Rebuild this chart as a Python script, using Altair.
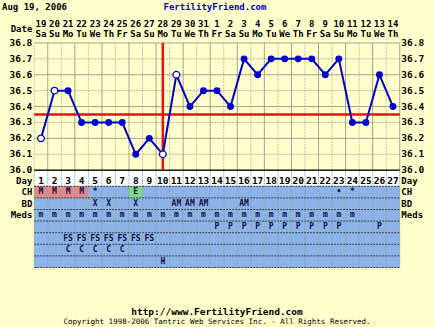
import altair as alt
import pandas as pd

# ---------------- data ----------------
days = list(range(1, 28))
dates = [19, 20, 21, 22, 23, 24, 25, 26, 27, 28, 29, 30, 31,
         1, 2, 3, 4, 5, 6, 7, 8, 9, 10, 11, 12, 13, 14]
weekdays = ["Sa", "Su", "Mo", "Tu", "We", "Th", "Fr"] * 4
weekdays = weekdays[:27]
temps = [36.2, 36.5, 36.5, 36.3, 36.3, 36.3, 36.3, 36.1, 36.2, 36.1,
         36.6, 36.4, 36.5, 36.5, 36.4, 36.7, 36.6, 36.7, 36.7, 36.7,
         36.7, 36.6, 36.7, 36.3, 36.3, 36.6, 36.4]
open_days = [1, 2, 10, 11]
coverline = 36.35
ovulation_day = 10
temp_ticks = [36.0, 36.1, 36.2, 36.3, 36.4, 36.5, 36.6, 36.7, 36.8]
temp_labels = ["36.0", "36.1", "36.2", "36.3", "36.4", "36.5", "36.6", "36.7", "36.8"]

ch = ["M", "M", "M", "M", "*", "", "", "E", "", "", "", "", "", "", "",
      "", "", "", "", "", "", "", "\u2022", "*", "", "", ""]
ch_colors = {"M": "#E68888", "E": "#7EDC7E"}
bd = ["", "", "", "", "X", "X", "", "X", "", "", "AM", "AM", "AM", "", "",
      "AM", "", "", "", "", "", "", "", "", "", "", ""]
meds = ["m"] * 24 + [""] * 3
p_row = [""] * 13 + ["P"] * 10 + ["", "", "P", ""]
fs_row = ["", ""] + ["FS"] * 7 + [""] * 18
c_row = ["", ""] + ["C"] * 5 + [""] * 20
h_row = [""] * 9 + ["H"] + [""] * 17
rows = [ch, bd, meds, p_row, fs_row, c_row, h_row]

# ---------------- scales ----------------
W, H = 434, 327
XS = alt.Scale(domain=[-2.028, 30.03], nice=False, zero=False)
TS = alt.Scale(domain=[35.014, 37.070], nice=False, zero=False)
LS = alt.Scale(domain=[-15.56, 12.629], nice=False, zero=False, reverse=True)
FONT = "DejaVu Sans Mono"


def X(f):
    return alt.X(f, type="quantitative", scale=XS, axis=None)


def YT(f):
    return alt.Y(f, type="quantitative", scale=TS, axis=None)


def YL(f):
    return alt.Y(f, type="quantitative", scale=LS, axis=None)


# ---------------- derived tables ----------------
bounds = [d + 0.5 for d in range(0, 28)]
vgrid = pd.DataFrame({"b": bounds, "t0": 36.0, "t1": 36.8,
                      "alt": [i % 2 for i in range(28)]})
hgrid = pd.DataFrame({"t": temp_ticks, "x0": 0.5, "x1": 27.5,
                      "alt": [i % 2 for i in range(9)]})
series = pd.DataFrame({"day": days, "temp": temps,
                       "open": [d in open_days for d in days]})

cells = []
for li, row in enumerate(rows, start=1):
    for d, v in zip(days, row):
        fill = "#8CB4E8"
        if li == 1 and v in ch_colors:
            fill = ch_colors[v]
        cells.append({"x0": d - 0.5, "x1": d + 0.5, "l0": li - 0.5, "l1": li + 0.5,
                      "fill": fill})
cells = pd.DataFrame(cells)

texts = []
for li, row in enumerate(rows, start=1):
    for d, v in zip(days, row):
        if v:
            texts.append({"day": d, "lane": li, "txt": v})
texts = pd.DataFrame(texts)

dayrow = pd.DataFrame({"day": days, "txt": [str(d) for d in days]})
header = pd.DataFrame({"day": days, "date": [str(x) for x in dates], "wd": weekdays})

tab_v = pd.DataFrame({"b": bounds, "l0": -0.8, "l1": 7.5})
tab_h = pd.DataFrame({"l": [0.5 + i for i in range(8)], "x0": 0.5, "x1": 27.5})

side = pd.DataFrame({"lane": [0, 1, 2, 3], "txt": ["Day", "CH", "BD", "Meds"]})
tick_df = pd.DataFrame({"t": temp_ticks, "lab": temp_labels})

# ---------------- layers ----------------
layers = []

layers.append(alt.Chart(pd.DataFrame({"x0": [0.5], "x1": [27.5], "l0": [-0.8], "l1": [0.5]}))
              .mark_rect(color="white").encode(x=X("x0"), x2="x1", y=YL("l0"), y2="l1"))
layers.append(alt.Chart(cells).mark_rect(strokeWidth=0).encode(
    x=X("x0"), x2="x1", y=YL("l0"), y2="l1", fill=alt.Fill("fill:N", scale=None)))
layers.append(alt.Chart(tab_v).mark_rule(color="#7F8FA8", strokeWidth=1, strokeDash=[1, 1]).encode(
    x=X("b"), y=YL("l0"), y2="l1"))
layers.append(alt.Chart(tab_h).mark_rule(color="#303848", strokeWidth=1, strokeDash=[2, 1]).encode(
    x=X("x0"), x2="x1", y=YL("l")))

layers.append(alt.Chart(vgrid).transform_filter("datum.alt == 1").mark_rule(
    color="#A8A090", strokeWidth=1).encode(x=X("b"), y=YT("t0"), y2="t1"))
layers.append(alt.Chart(vgrid).transform_filter("datum.alt == 0").mark_rule(
    color="#C8BFA8", strokeWidth=1, strokeDash=[2, 1]).encode(x=X("b"), y=YT("t0"), y2="t1"))
layers.append(alt.Chart(hgrid).transform_filter("datum.alt == 0").mark_rule(
    color="#A8A090", strokeWidth=1).encode(x=X("x0"), x2="x1", y=YT("t")))
layers.append(alt.Chart(hgrid).transform_filter("datum.alt == 1").mark_rule(
    color="#D0A890", strokeWidth=1, strokeDash=[2, 1]).encode(x=X("x0"), x2="x1", y=YT("t")))
layers.append(alt.Chart(pd.DataFrame({"t": [36.0], "x0": [0.5], "x1": [27.5]})).mark_rule(
    color="#202020", strokeWidth=1.5).encode(x=X("x0"), x2="x1", y=YT("t")))

layers.append(alt.Chart(pd.DataFrame({"t": [coverline], "x0": [0.5], "x1": [27.5]})).mark_rule(
    color="#E81010", strokeWidth=2.5).encode(x=X("x0"), x2="x1", y=YT("t")))
layers.append(alt.Chart(pd.DataFrame({"d": [ovulation_day], "t0": [36.0], "t1": [36.8]})).mark_rule(
    color="#E81010", strokeWidth=2.5).encode(x=X("d"), y=YT("t0"), y2="t1"))

layers.append(alt.Chart(series).mark_line(color="#0000CC", strokeWidth=2).encode(
    x=X("day"), y=YT("temp")))
layers.append(alt.Chart(series).transform_filter("!datum.open").mark_point(
    shape="circle", filled=True, size=48, color="#0000CC", opacity=1).encode(x=X("day"), y=YT("temp")))
layers.append(alt.Chart(series).transform_filter("datum.open").mark_point(
    shape="circle", size=44, fill="white", fillOpacity=1, stroke="#0000CC", strokeWidth=1.3,
    opacity=1).encode(x=X("day"), y=YT("temp")))

layers.append(alt.Chart(tick_df).mark_text(font=FONT, fontWeight="bold", fontSize=9.5,
                                           align="right", baseline="middle", color="black").encode(
    x=alt.X(datum=0.36, type="quantitative", scale=XS, axis=None), y=YT("t"), text="lab:N"))
layers.append(alt.Chart(tick_df).mark_text(font=FONT, fontWeight="bold", fontSize=9.5,
                                           align="left", baseline="middle", color="black").encode(
    x=alt.X(datum=27.62, type="quantitative", scale=XS, axis=None), y=YT("t"), text="lab:N"))

layers.append(alt.Chart(texts).mark_text(font=FONT, fontWeight="bold", fontSize=8,
                                         baseline="middle", color="#101040").encode(
    x=X("day"), y=YL("lane"), text="txt:N"))
layers.append(alt.Chart(dayrow).mark_text(font=FONT, fontWeight="bold", fontSize=9.5,
                                          baseline="middle", color="black").encode(
    x=X("day"), y=alt.Y(datum=0, type="quantitative", scale=LS, axis=None), text="txt:N"))
layers.append(alt.Chart(side).mark_text(font=FONT, fontWeight="bold", fontSize=9,
                                        align="right", baseline="middle", color="black").encode(
    x=alt.X(datum=0.36, type="quantitative", scale=XS, axis=None), y=YL("lane"), text="txt:N"))
layers.append(alt.Chart(side).mark_text(font=FONT, fontWeight="bold", fontSize=9,
                                        align="left", baseline="middle", color="black").encode(
    x=alt.X(datum=27.62, type="quantitative", scale=XS, axis=None), y=YL("lane"), text="txt:N"))

layers.append(alt.Chart(header).mark_text(font=FONT, fontWeight="bold", fontSize=9,
                                          baseline="middle", color="black").encode(
    x=X("day"), y=alt.Y(datum=-13.47, type="quantitative", scale=LS, axis=None), text="date:N"))
layers.append(alt.Chart(header).mark_text(font=FONT, fontWeight="bold", fontSize=9,
                                          baseline="middle", color="black").encode(
    x=X("day"), y=alt.Y(datum=-12.6, type="quantitative", scale=LS, axis=None), text="wd:N"))

annot = pd.DataFrame({
    "x": [0.36, -1.88, 13.85, 14.0, 14.0],
    "l": [-13.03, -14.98, -14.98, 11.31, 12.17],
    "txt": ["Date", "Aug 19, 2006", "FertilityFriend.com", "http://www.FertilityFriend.com",
            "Copyright 1998-2006 Tantric Web Services Inc. - All Rights Reserved."],
    "align": ["right", "left", "center", "center", "center"],
    "size": [9, 9, 9, 9.5, 7.5],
    "weight": ["bold", "bold", "bold", "bold", "normal"],
    "color": ["black", "black", "#0000CC", "black", "black"],
})
for _, r in annot.iterrows():
    layers.append(alt.Chart(pd.DataFrame([r])).mark_text(
        font=FONT, fontWeight=r["weight"], fontSize=float(r["size"]), align=r["align"],
        baseline="middle", color=r["color"]).encode(x=X("x"), y=YL("l"), text="txt:N"))

chart = alt.layer(*layers).resolve_scale(y="independent").properties(
    width=W, height=H, padding=0, background="#FFFFCC",
    autosize=alt.AutoSizeParams(type="none"),
).configure_view(stroke=None)

chart.save("out.html", embed_options={"renderer": "svg", "actions": False})
